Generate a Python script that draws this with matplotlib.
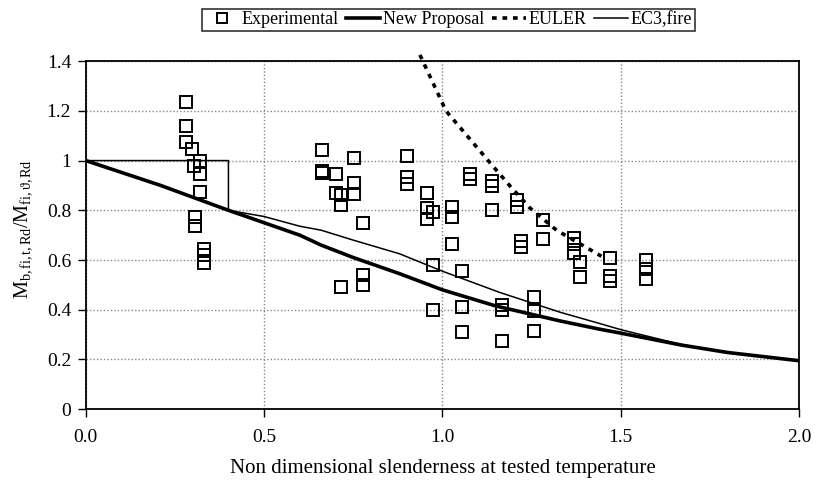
import matplotlib
matplotlib.use("Agg")
import matplotlib.pyplot as plt
from matplotlib.ticker import FixedLocator

# ---- data ----
exp_x = [0.282, 0.282, 0.282, 0.298, 0.320, 0.304, 0.320, 0.320, 0.306, 0.306,
         0.331, 0.331, 0.331,
         0.661, 0.661, 0.661, 0.753, 0.703, 0.703, 0.717, 0.717, 0.753, 0.753,
         0.778, 0.778, 0.778, 0.717,
         0.900, 0.900, 0.900, 0.956, 0.956, 0.956, 0.974, 1.026, 1.026, 1.026,
         0.974, 0.974, 1.054, 1.054, 1.054,
         1.076, 1.076, 1.140, 1.140, 1.140, 1.208, 1.208, 1.220, 1.220,
         1.282, 1.282, 1.166, 1.166, 1.166, 1.256, 1.256, 1.256,
         1.370, 1.370, 1.370, 1.386, 1.386, 1.470, 1.470, 1.470,
         1.570, 1.570, 1.570]
exp_y = [1.235, 1.140, 1.075, 1.045, 1.000, 0.980, 0.945, 0.875, 0.775, 0.735,
         0.645, 0.620, 0.590,
         1.044, 0.960, 0.950, 1.010, 0.945, 0.870, 0.860, 0.820, 0.910, 0.865,
         0.750, 0.540, 0.500, 0.490,
         1.020, 0.935, 0.905, 0.870, 0.810, 0.765, 0.795, 0.815, 0.775, 0.665,
         0.578, 0.397, 0.556, 0.410, 0.310,
         0.944, 0.925, 0.917, 0.897, 0.803, 0.840, 0.815, 0.675, 0.652,
         0.760, 0.683, 0.418, 0.400, 0.274, 0.453, 0.395, 0.314,
         0.690, 0.665, 0.630, 0.593, 0.530, 0.610, 0.535, 0.515,
         0.602, 0.562, 0.525]

prop_x = [0.0, 0.21, 0.40, 0.50, 0.60, 0.66, 0.75, 0.88, 1.00, 1.15, 1.33, 1.44, 1.50, 1.67, 1.80, 2.00]
prop_y = [1.0, 0.90, 0.80, 0.750, 0.700, 0.66, 0.610, 0.545, 0.480, 0.415, 0.355, 0.322, 0.306, 0.258, 0.228, 0.195]

euler_x = [0.937, 1.010, 1.130, 1.190, 1.245, 1.320, 1.446]
euler_y = [1.425, 1.200, 0.997, 0.897, 0.810, 0.720, 0.615]

ec3_x = [0.0, 0.40, 0.40, 0.50, 0.60, 0.66, 0.75, 0.88, 1.00, 1.16, 1.33, 1.44, 1.50, 1.67, 1.80, 2.00]
ec3_y = [1.0, 1.00, 0.80, 0.775, 0.736, 0.72, 0.680, 0.625, 0.555, 0.470, 0.390, 0.345, 0.320, 0.260, 0.228, 0.195]

x_ticks = [0.0, 0.5, 1.0, 1.5, 2.0]
y_ticks = [0, 0.2, 0.4, 0.6, 0.8, 1.0, 1.2, 1.4]
y_tick_labels = ["0", "0.2", "0.4", "0.6", "0.8", "1", "1.2", "1.4"]

plt.rcParams['font.family'] = ['Liberation Serif', 'DejaVu Serif']
plt.rcParams['mathtext.fontset'] = 'custom'
plt.rcParams['mathtext.rm'] = 'Liberation Serif'
plt.rcParams['mathtext.it'] = 'Liberation Serif:italic'

fig = plt.figure(figsize=(8.17, 4.93), dpi=100)
ax = fig.add_axes([0.105, 0.170, 0.873, 0.706])

ax.set_xlim(0, 2.0)
ax.set_ylim(0, 1.4)
ax.xaxis.set_major_locator(FixedLocator(x_ticks))
ax.yaxis.set_major_locator(FixedLocator(y_ticks))
ax.set_xticklabels([f"{v:.1f}" for v in x_ticks])
ax.set_yticklabels(y_tick_labels)
ax.tick_params(direction='out', length=5.5, width=1, labelsize=14)
ax.tick_params(axis='x', pad=9)
ax.tick_params(axis='y', pad=5)
ax.grid(True, linestyle=(0, (1, 1.5)), color='#888888', linewidth=1)
for s in ax.spines.values():
    s.set_linewidth(1.3)

h_exp, = ax.plot(exp_x, exp_y, linestyle='none', marker='s', markersize=8.5,
                 markerfacecolor='none', markeredgecolor='black', markeredgewidth=1.4,
                 label='Experimental', zorder=4)
h_prop, = ax.plot(prop_x, prop_y, color='black', linewidth=2.6, label='New Proposal', zorder=3)
h_eul, = ax.plot(euler_x, euler_y, color='black', linewidth=2.6, linestyle=(0, (1.3, 1.6)),
                 label='EULER', zorder=3, clip_on=False)
h_ec3, = ax.plot(ec3_x, ec3_y, color='black', linewidth=1.1, label='EC3,fire', zorder=3)

ax.set_xlabel('Non dimensional slenderness at tested temperature', fontsize=15)
ax.xaxis.set_label_coords(0.5, -0.142)
ax.set_ylabel(r'$\mathrm{M_{b,fi,t,Rd}/M_{fi,\vartheta,Rd}}$', fontsize=14.5)
ax.yaxis.set_label_coords(-0.072, 0.517)

leg = fig.legend(handles=[h_exp, h_prop, h_eul, h_ec3], loc='center',
                 bbox_to_anchor=(0.549, 0.960), ncol=4, fontsize=13,
                 frameon=True, fancybox=False, edgecolor='black',
                 handlelength=1.9, handletextpad=0.15, columnspacing=0.4,
                 borderpad=0.15, markerscale=0.9)
leg.get_frame().set_linewidth(1.2)

fig.savefig('out.png', dpi=100)
